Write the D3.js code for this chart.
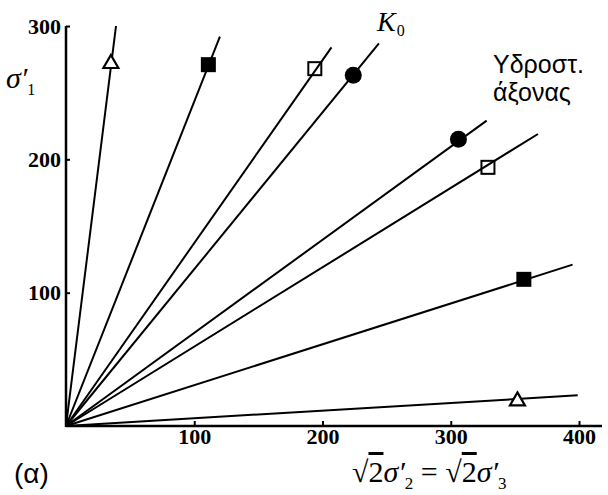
<!DOCTYPE html>
<html>
<head>
<meta charset="utf-8">
<script src="https://cdn.jsdelivr.net/npm/d3@7/dist/d3.min.js"></script>
<style>
  body { margin: 0; background: #fff; }
  .tick text { font-family: "Liberation Serif", serif; font-weight: bold; font-size: 22px; fill: #000; }
  .tick line { stroke: #000; stroke-width: 2px; }
</style>
</head>
<body>
<div id="chart"></div>
<script>
// stress paths, all starting at the origin
var pathEndX = [39, 120, 207, 244, 328, 368, 395, 399];
var pathEndY = [300, 292, 284, 287, 229, 219, 121, 23];
// failure points on each path
var markX = [35, 111, 194, 224, 306, 329, 357, 352];
var markY = [273, 271, 268, 263, 215, 194, 110, 20];
var markShape = ["triangle", "square", "openSquare", "circle", "circle", "openSquare", "square", "triangle"];
var xTicks = [100, 200, 300, 400];
var yTicks = [100, 200, 300];

var width = 608, height = 495;

var x = d3.scaleLinear().domain([0, 400]).range([66, 579]);
var y = d3.scaleLinear().domain([0, 300]).range([426, 26]);

var svg = d3.select("#chart").append("svg")
  .attr("width", width)
  .attr("height", height)
  .style("background", "#fff");

// axes
var xAxis = d3.axisBottom(x).tickValues(xTicks).tickSize(-5).tickSizeOuter(0).tickPadding(2);
var yAxis = d3.axisLeft(y).tickValues(yTicks).tickSize(-4).tickSizeOuter(0).tickPadding(5);

var gx = svg.append("g")
  .attr("transform", "translate(0," + y(0) + ")")
  .call(xAxis);
gx.select(".domain").remove();

var gy = svg.append("g")
  .attr("transform", "translate(" + x(0) + ",0)")
  .call(yAxis);
gy.select(".domain").remove();

svg.append("line")
  .attr("x1", x(0)).attr("x2", 602)
  .attr("y1", y(0)).attr("y2", y(0))
  .attr("stroke", "#000").attr("stroke-width", 2.5);
svg.append("line")
  .attr("x1", x(0)).attr("x2", x(0))
  .attr("y1", y(0) + 1).attr("y2", y(300))
  .attr("stroke", "#000").attr("stroke-width", 2.5);

// paths
var line = d3.line()
  .x(function (d) { return x(d[0]); })
  .y(function (d) { return y(d[1]); });

pathEndX.forEach(function (ex, i) {
  svg.append("path")
    .attr("d", line([[0, 0], [ex, pathEndY[i]]]))
    .attr("fill", "none")
    .attr("stroke", "#000")
    .attr("stroke-width", 2);
});

// markers
markX.forEach(function (mx, i) {
  var cx = x(mx), cy = y(markY[i]), s = markShape[i];
  if (s == "circle") {
    svg.append("circle").attr("cx", cx).attr("cy", cy).attr("r", 8.5).attr("fill", "#000");
  } else if (s == "square") {
    svg.append("rect").attr("x", cx - 7.5).attr("y", cy - 7.5)
      .attr("width", 15).attr("height", 15).attr("fill", "#000");
  } else if (s == "openSquare") {
    svg.append("rect").attr("x", cx - 6.5).attr("y", cy - 6.5)
      .attr("width", 13).attr("height", 13)
      .attr("fill", "none").attr("stroke", "#000").attr("stroke-width", 2);
  } else {
    svg.append("path")
      .attr("d", "M" + cx + "," + (cy - 7) + "L" + (cx + 7.5) + "," + (cy + 6) + "L" + (cx - 7.5) + "," + (cy + 6) + "Z")
      .attr("fill", "#fff").attr("stroke", "#000").attr("stroke-width", 2.2);
  }
});

// y label  σ'1
var yl = svg.append("text")
  .attr("x", 6).attr("y", 88)
  .attr("font-family", "Liberation Serif, serif")
  .attr("font-size", 30);
yl.append("tspan").attr("font-style", "italic").text("σ′");
yl.append("tspan").attr("dy", 7).attr("font-size", 16).text("1");

// K0
var kl = svg.append("text")
  .attr("x", 377).attr("y", 31)
  .attr("font-family", "Liberation Serif, serif")
  .attr("font-size", 28);
kl.append("tspan").attr("font-style", "italic").text("K");
kl.append("tspan").attr("dx", 1).attr("dy", 5).attr("font-size", 16).text("0");

// hydrostatic axis note
svg.append("text")
  .attr("x", 493).attr("y", 73)
  .attr("font-family", "Liberation Sans, Arial, sans-serif")
  .attr("font-size", 25)
  .text("Υδροστ.");
svg.append("text")
  .attr("x", 493).attr("y", 101)
  .attr("font-family", "Liberation Sans, Arial, sans-serif")
  .attr("font-size", 25)
  .text("άξονας");

// panel tag
svg.append("text")
  .attr("x", 14).attr("y", 483)
  .attr("font-family", "Liberation Sans, Arial, sans-serif")
  .attr("font-size", 28)
  .text("(α)");

// x label  √2σ'2 = √2σ'3
var xl = svg.append("text")
  .attr("x", 352).attr("y", 482)
  .attr("font-family", "Liberation Serif, serif")
  .attr("font-size", 30);
xl.append("tspan").text("√");
xl.append("tspan").style("text-decoration", "overline").text("2");
xl.append("tspan").attr("font-style", "italic").text("σ′");
xl.append("tspan").attr("dy", 7).attr("font-size", 17).text("2");
xl.append("tspan").attr("dy", -7).text(" = √");
xl.append("tspan").style("text-decoration", "overline").text("2");
xl.append("tspan").attr("font-style", "italic").text("σ′");
xl.append("tspan").attr("dy", 7).attr("font-size", 17).text("3");
</script>
</body>
</html>
